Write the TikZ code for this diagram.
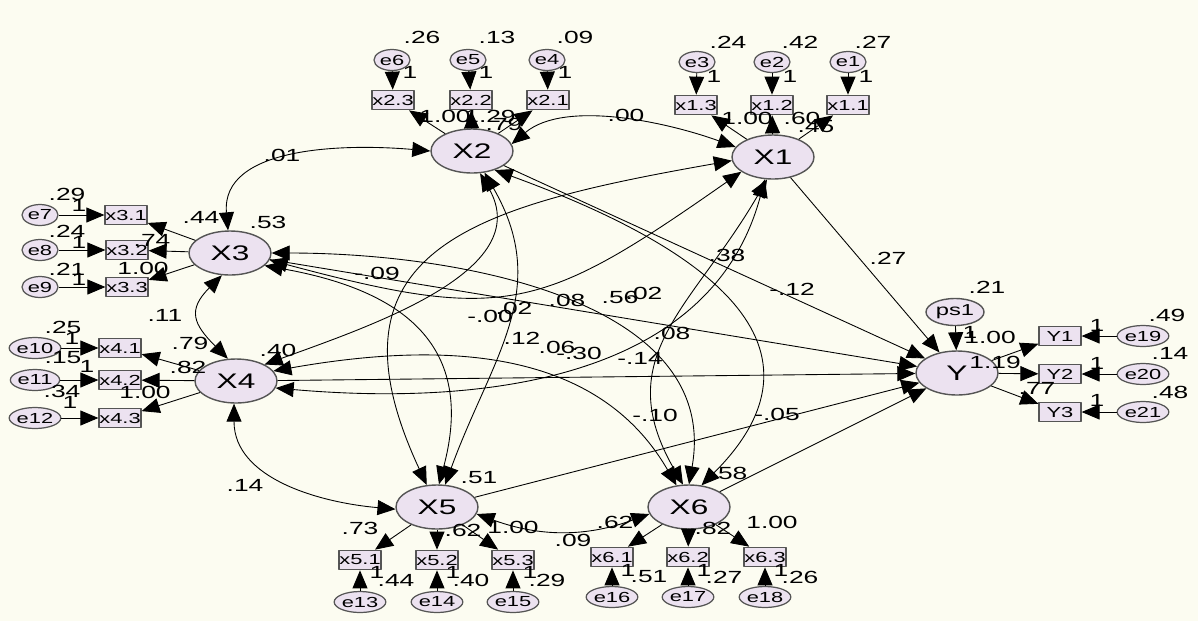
\documentclass[tikz,border=0pt]{standalone}
\usepackage{fontspec}
\setmainfont[FakeStretch=1.5]{Liberation Sans}
\usetikzlibrary{arrows.meta,shapes.geometric}
\definecolor{paper}{RGB}{252,252,241}
\definecolor{lilac}{RGB}{236,226,240}
\definecolor{rim}{RGB}{85,85,85}
\tikzset{
  latent/.style={ellipse,draw=rim,fill=lilac,line width=0.8pt,minimum width=16.4mm,minimum height=8.8mm,inner sep=0pt,font=\fontsize{12}{12}\selectfont},
  resid/.style={ellipse,draw=rim,fill=lilac,line width=0.7pt,minimum width=7.2mm,minimum height=4.2mm,inner sep=0pt,font=\fontsize{8.3}{8.3}\selectfont},
  obs/.style={rectangle,draw=rim,fill=lilac,line width=0.7pt,minimum width=8.4mm,minimum height=3.9mm,inner sep=0pt,font=\fontsize{8.3}{8.3}\selectfont},
  coef/.style={inner sep=0pt,font=\fontsize{10}{10}\selectfont},
  arr/.style={-{Triangle[length=3.6mm,width=3mm]},line width=0.5pt},
  cov/.style={{Triangle[length=3.6mm,width=3mm]}-{Triangle[length=3.6mm,width=3mm]},line width=0.5pt}
}
\begin{document}
\begin{tikzpicture}[x=0.2mm,y=0.2mm,line join=round]
	\fill[paper] (0,0) rectangle (1198,-621);
	\useasboundingbox (0,0) rectangle (1198,-621);
	\node[latent] (X1) at (773,-157) {X1};
	\node[latent] (X2) at (472,-151) {X2};
	\node[latent] (X3) at (230,-253) {X3};
	\node[latent] (X4) at (236,-381) {X4};
	\node[latent] (X5) at (437,-507) {X5};
	\node[latent] (X6) at (689,-507) {X6};
	\node[latent] (Y) at (957,-373) {Y};
	\node[latent,minimum width=11.6mm,minimum height=5.4mm,font=\fontsize{9}{9}\selectfont] (ps1) at (955,-312) {ps1};
	\foreach \n/\t/\x/\y/\e/\ex/\ey/\l in {
		i23/x2.3/393/100/e6/392/60/X2, i22/x2.2/471/100/e5/468/60/X2, i21/x2.1/548/100/e4/547/60/X2,
		i13/x1.3/696/105/e3/697/62/X1, i12/x1.2/772/105/e2/772/62/X1, i11/x1.1/848/105/e1/848/62/X1,
		i31/x3.1/126/215/e7/40/215/X3, i32/x3.2/127/250/e8/40/250/X3, i33/x3.3/127/287/e9/40/287/X3,
		i41/x4.1/120/348/e10/35/348/X4, i42/x4.2/120/380/e11/35/380/X4, i43/x4.3/120/418/e12/35/418/X4,
		i51/x5.1/360/560/e13/360/602/X5, i52/x5.2/437/560/e14/437/602/X5, i53/x5.3/513/560/e15/513/602/X5,
		i61/x6.1/612/557/e16/612/597/X6, i62/x6.2/688/557/e17/688/597/X6, i63/x6.3/765/557/e18/765/597/X6,
		y1/Y1/1060/336/e19/1143/336/Y, y2/Y2/1060/374/e20/1143/374/Y, y3/Y3/1060/412/e21/1143/412/Y}
	{
		\node[obs] (\n) at (\x,-\y) {\t};
		\node[resid] (\e) at (\ex,-\ey) {\e};
		\draw[arr] (\e) -- (\n);
		\draw[arr] (\l) -- (\n);
	}
	\foreach \s in {X1,X2,X3,X4,X5,X6,ps1}
	\draw[arr] (\s) -- (Y);
	\draw[cov] (X2.10) to[out=40,in=160,looseness=0.8] (X1.165);
	\draw[cov] (X2.west) to[out=175,in=95] (X3.95);
	\draw[cov] (X3.250) to[out=225,in=135,looseness=1.5] (X4.110);
	\draw[cov] (X4.265) to[out=-90,in=175] (X5.183);
	\draw[cov] (X5.-10) to[out=-20,in=200] (X6.190);
	\draw[cov] (X3.-10) to[out=-15,in=215,looseness=1.3] (X1.205);
	\draw[cov] (X4.-10) to[out=-5,in=-105] (X1.250);
	\draw[cov] (X1.185) to[out=190,in=115,looseness=1.5] (X5.115);
	\draw[cov] (X1.255) to[out=-120,in=120,looseness=1.2] (X6.105);
	\draw[cov] (X4.30) to[out=20,in=-60] (X2.290);
	\draw[cov] (X2.300) to[out=-60,in=70,looseness=1.1] (X5.70);
	\draw[cov] (X2.320) to[out=-20,in=45,looseness=1.4] (X6.60);
	\draw[cov] (X3.-20) to[out=-10,in=75,looseness=1.3] (X5.85);
	\draw[cov] (X3.east) to[out=0,in=80] (X6.north);
	\draw[cov] (X4.15) to[out=10,in=120] (X6.120);
	\foreach \t/\x/\y [count=\k] in {
		.26/422/37, .13/497/37, .09/575/37, .24/728/42, .42/800/42, .27/873/42,
		.29/67/194, .24/67/231, .21/67/269, .25/63/327, .15/63/358, .34/62/391,
		.44/396/580, .40/471/580, .29/547/580, .51/649/577, .27/724/577, .26/800/577,
		.49/1167/315, .14/1170/353, .48/1170/392, .21/987/287,
		1/410/72, 1/486/72, 1/565/72, 1/714/76, 1/790/76, 1/866/76,
		1/79/205, 1/79/242, 1/79/279, 1/72/338, 1/87/366, 1/70/402,
		1/377/572, 1/453/572, 1/530/572, 1/628/570, 1/704/570, 1/781/570,
		1/1097/325, 1/1097/363, 1/1097/400, 1/970/332,
		1.00/445/116, 1.29/490/116, .79/504/124, 1.00/747/118, .60/802/118, .45/816/127,
		.44/201/217, .74/152/240, 1.00/143/268, .79/190/343, .82/188/367, 1.00/145/392,
		.73/360/528, .62/463/530, 1.00/513/527, .62/615/522, .82/713/528, 1.00/772/522,
		1.00/990/337, 1.19/995/362, .77/1037/388,
		.53/268/222, .40/278/350, .51/479/478, .58/729/473,
		.00/626/115, .01/282/155, .11/165/315, .14/245/485, .09/573/540,
		-.09/377/273, .08/567/300, .56/620/297, .02/644/293, -.00/490/316, .02/514/308,
		.12/522/338, .06/557/347, -.30/579/353, .38/727/255, -.12/792/289, .08/672/333,
		-.14/640/358, -.10/655/415, -.05/777/414, .27/888/258}
	\node[coef] (c\k) at (\x,-\y) {\t};
\end{tikzpicture}
\end{document}
